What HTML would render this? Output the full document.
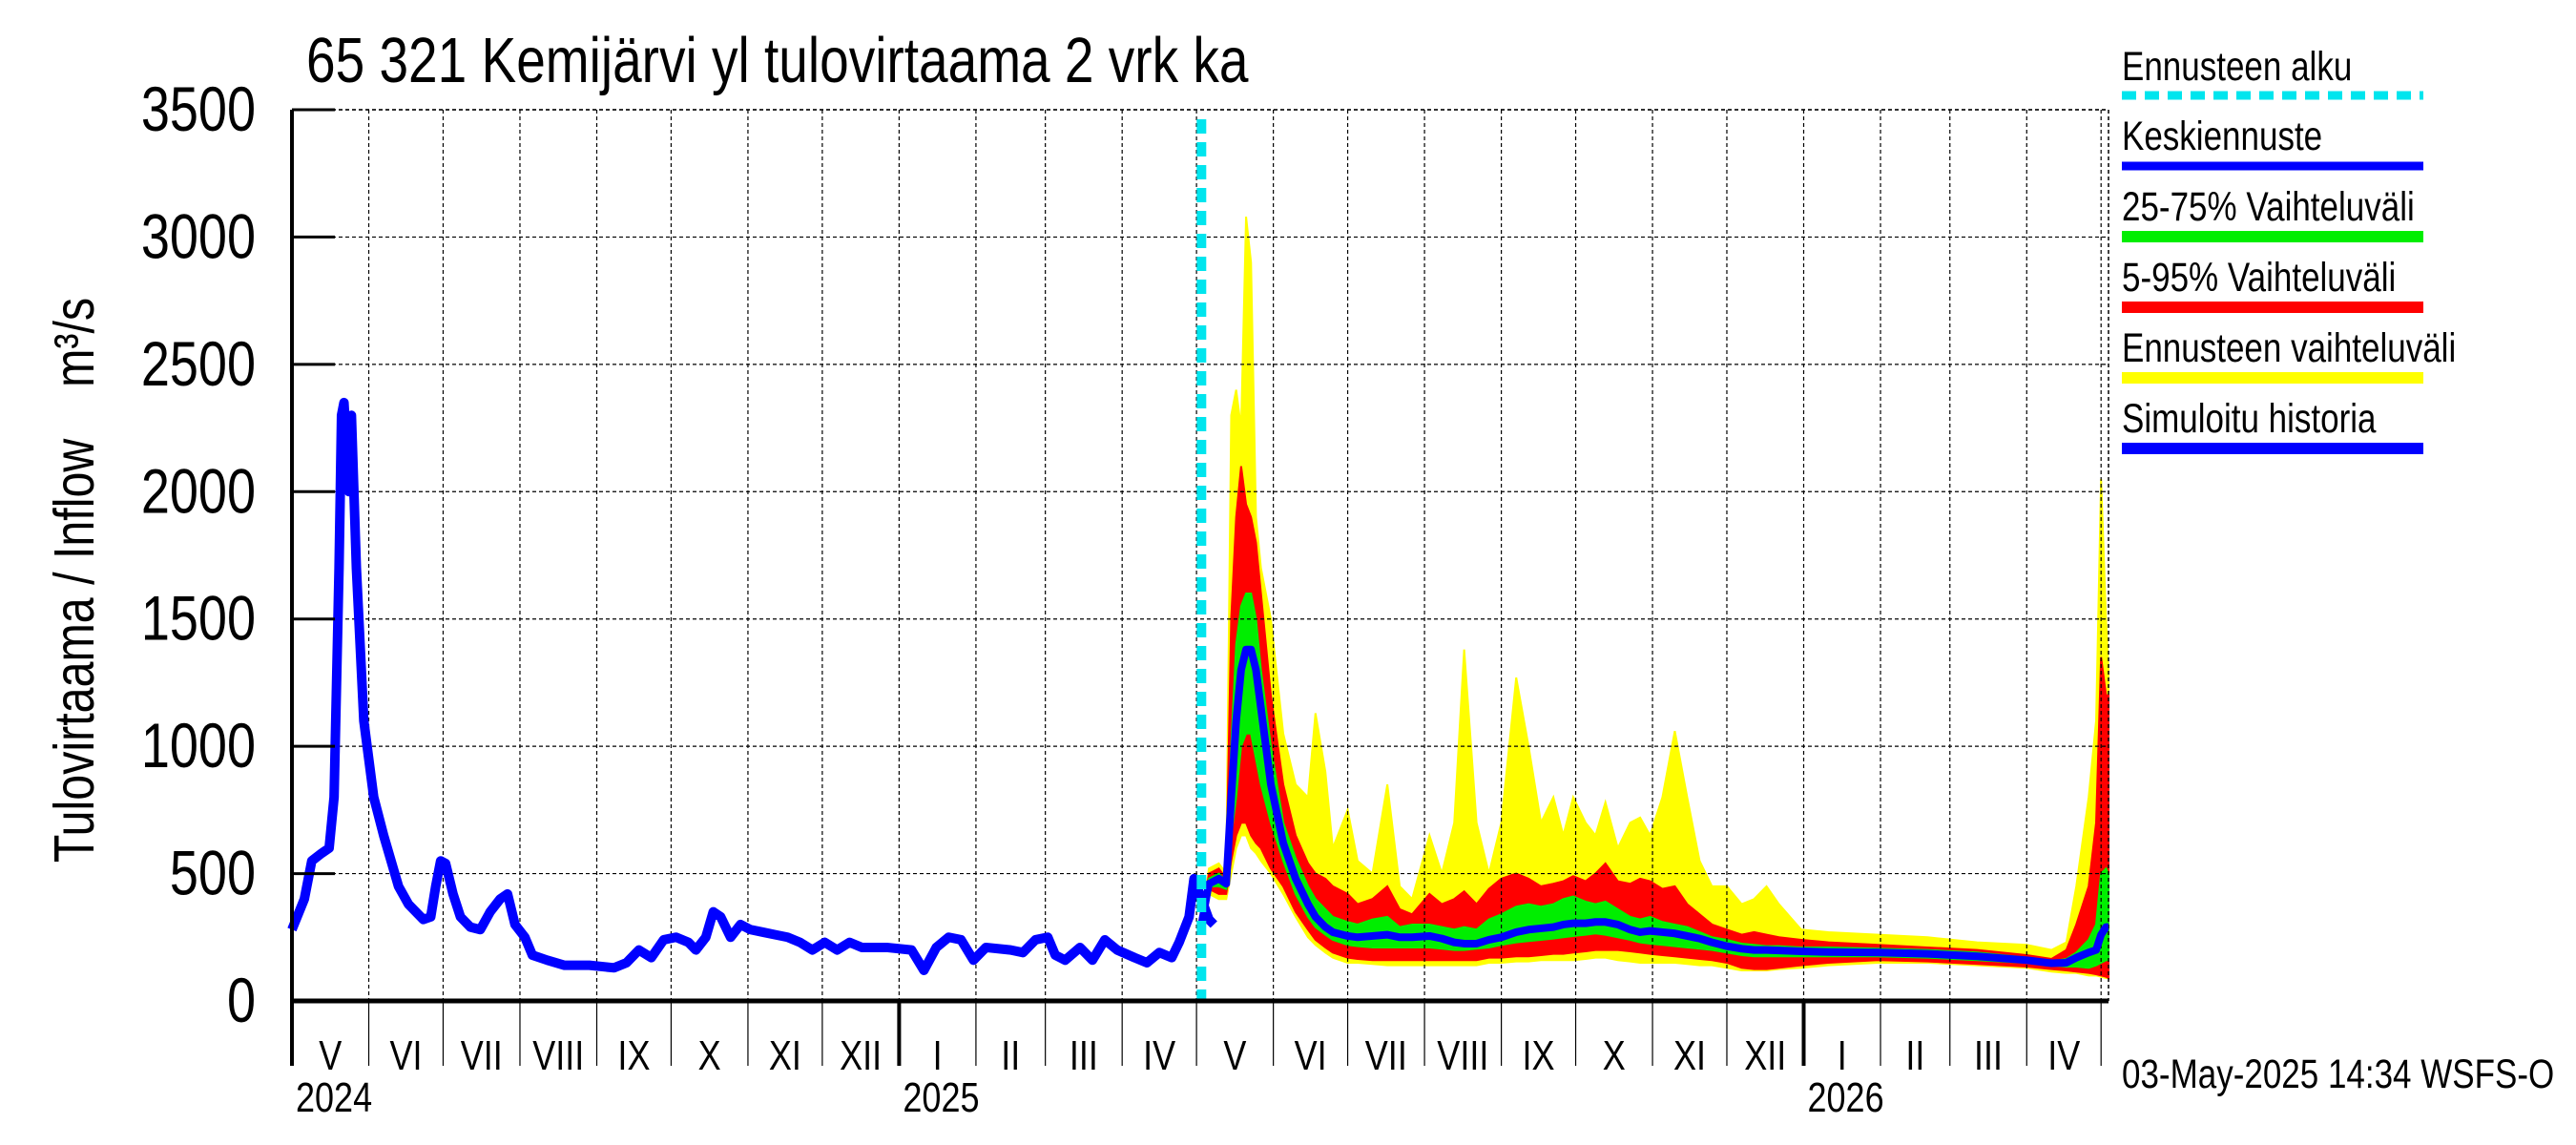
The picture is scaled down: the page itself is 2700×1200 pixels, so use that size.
<!DOCTYPE html>
<html><head><meta charset="utf-8"><style>
html,body{margin:0;padding:0;background:#fff;}
svg{display:block;font-family:"Liberation Sans",sans-serif;}
</style></head><body>
<svg id="chart" width="2700" height="1200" viewBox="0 0 2700 1200" xmlns="http://www.w3.org/2000/svg">
<rect width="2700" height="1200" fill="#fff"/>
<g id="bands"></g>
<g id="grid"></g>
<g id="lines"></g>
<g id="axes"></g>
<text class="st" x="321" y="86" font-size="55">65 321 Kemijärvi yl tulovirtaama 2 vrk ka</text>
<text transform="translate(98,608) rotate(-90) scale(0.82,1)" text-anchor="middle" font-size="59" xml:space="preserve">Tulovirtaama / Inflow    m³/s</text>
<g>
<text class="st" x="2224" y="84" font-size="35">Ennusteen alku</text>
<line x1="2224" y1="100" x2="2540" y2="100" stroke="#00e5ee" stroke-width="9" stroke-dasharray="15 9"/>
<text class="st" x="2224" y="157" font-size="35">Keskiennuste</text>
<line x1="2224" y1="174" x2="2540" y2="174" stroke="#0000ff" stroke-width="9"/>
<text class="st" x="2224" y="231" font-size="35">25-75% Vaihteluväli</text>
<line x1="2224" y1="248" x2="2540" y2="248" stroke="#00ee00" stroke-width="12"/>
<text class="st" x="2224" y="305" font-size="35">5-95% Vaihteluväli</text>
<line x1="2224" y1="322" x2="2540" y2="322" stroke="#ff0000" stroke-width="12"/>
<text class="st" x="2224" y="379" font-size="35">Ennusteen vaihteluväli</text>
<line x1="2224" y1="396" x2="2540" y2="396" stroke="#ffff00" stroke-width="12"/>
<text class="st" x="2224" y="453" font-size="35">Simuloitu historia</text>
<line x1="2224" y1="470" x2="2540" y2="470" stroke="#0000ff" stroke-width="12"/>
</g>
<text class="st" x="2224" y="1140" font-size="35">03-May-2025 14:34 WSFS-O</text>
</svg>
<script>
// ---- data ----
const yTicks = [0,500,1000,1500,2000,2500,3000,3500];
const monthLabels = ["V","VI","VII","VIII","IX","X","XI","XII","I","II","III","IV","V","VI","VII","VIII","IX","X","XI","XII","I","II","III","IV"];
const yearLabels = ["2024","2025","2026"];
const forecastStartDay = 367;
const histDays = [0,5,8,12,15,17,19,20,21,23,24,26,29,33,37,40,43,47,50,53,56,58,60,62,65,68,72,76,80,84,87,90,94,97,103,110,120,130,135,140,145,150,155,160,163,167,170,173,177,181,185,190,195,200,205,210,215,220,225,230,240,250,255,260,265,270,275,280,290,295,300,305,308,312,318,323,328,333,340,345,350,355,358,362,364,367,370,372];
const histVals = [280,400,550,580,600,800,1700,2300,2350,2000,2300,1700,1100,800,650,550,450,380,350,320,330,450,550,540,420,330,290,280,350,400,420,300,250,180,160,140,140,130,150,200,170,240,250,230,200,250,350,330,250,300,280,270,260,250,230,200,230,200,230,210,210,200,120,210,250,240,160,210,200,190,240,250,180,160,210,160,240,200,170,150,190,170,230,330,480,400,320,300];
const fDays = [367,370,374,377,379,381,383,385,387,389,391,395,400,405,410,413,417,420,426,430,436,442,447,452,459,464,469,473,478,483,488,494,499,504,509,513,517,522,526,530,535,540,544,548,553,558,563,568,573,579,585,590,595,600,609,620,640,660,680,700,710,716,720,725,728,730,732,733];
const yellowLo = [300,420,400,400,500,600,650,650,600,580,550,500,420,330,250,220,190,170,150,150,145,140,140,140,140,140,140,140,140,150,150,155,155,160,160,160,160,165,170,170,160,155,150,150,150,150,145,140,140,130,120,120,120,125,130,140,150,150,140,130,115,110,110,100,100,95,90,90];
const yellowHi = [300,520,540,500,2300,2400,2250,3080,2900,1900,1700,1500,1050,850,800,1130,900,600,750,550,500,850,450,400,650,500,700,1380,700,500,700,1270,1000,700,800,650,800,700,650,780,600,700,720,650,800,1060,800,550,450,450,380,400,450,380,280,270,260,250,230,220,200,230,450,800,1100,2050,1500,1300];
const redLo = [300,440,420,420,550,650,700,700,650,620,600,520,450,350,280,240,210,190,170,165,160,160,160,160,160,160,160,160,160,170,170,175,175,180,185,185,190,195,200,200,200,195,190,185,180,175,170,165,160,150,130,125,125,130,140,150,160,155,145,135,125,120,115,110,105,100,95,90];
const redHi = [300,500,520,480,1500,1900,2100,1950,1900,1800,1600,1200,850,650,540,500,480,450,420,380,400,450,360,340,420,380,400,430,380,440,480,500,480,450,460,470,490,470,500,540,470,460,480,470,440,450,380,340,300,280,260,270,260,250,240,230,220,210,200,180,165,200,300,450,700,1350,1200,1200];
const greenLo = [300,450,450,440,650,800,1000,1050,1050,950,850,700,550,420,330,290,260,240,220,215,210,210,210,210,210,205,200,200,205,210,220,230,235,240,245,250,255,260,265,260,250,240,230,225,220,215,210,205,200,190,180,175,175,175,175,175,175,170,160,150,140,135,135,130,140,150,160,160];
const greenHi = [300,480,500,470,1000,1400,1550,1600,1600,1500,1300,1000,700,560,450,400,360,330,310,300,320,330,290,300,300,290,280,290,280,320,340,370,380,370,380,400,410,390,380,390,360,330,320,330,310,300,290,270,250,240,225,220,215,215,210,210,205,200,190,170,155,165,190,240,300,500,520,500];
const meanVals = [300,460,480,460,800,1100,1300,1380,1380,1300,1150,850,620,480,380,330,290,270,255,250,255,260,250,250,255,245,230,225,225,240,250,270,280,285,290,300,305,305,310,310,300,280,270,275,270,265,255,245,230,215,205,200,200,198,195,192,190,185,175,160,148,150,170,190,200,260,290,290];

// ---- scales ----
const X0 = 306, X1 = 2210, DAY_END = 733;
const Y0 = 1049, Y1 = 115, VMAX = 3500;
function xs(d){ return X0 + d*(X1-X0)/DAY_END; }
function ys(v){ return Y0 - v*(Y0-Y1)/VMAX; }
const NS = "http://www.w3.org/2000/svg";
function mk(tag, attrs, parent){
  const e = document.createElementNS(NS, tag);
  for (const k in attrs) e.setAttribute(k, attrs[k]);
  parent.appendChild(e); return e;
}
const grid = document.getElementById('grid');
const axes = document.getElementById('axes');
const bands = document.getElementById('bands');
const lines = document.getElementById('lines');

const base = Date.UTC(2024,4,1);
const monthStarts = [];
for (let i=0;i<=24;i++){ monthStarts.push((Date.UTC(2024,4+i,1)-base)/86400000); }

yTicks.forEach(v=>{
  const y = ys(v);
  if (v>0){
    const g = mk('line',{x1:X0,x2:X1,y1:y,y2:y,stroke:'#000','stroke-width':1.2,'stroke-dasharray':'4 3'},grid);
    
    
  }
  const t = mk('line',{x1:X0,x2:X0+45,y1:y,y2:y,stroke:'#000','stroke-width':3},axes);
  
  
  const lb = mk('text',{x:268,y:y+22,'text-anchor':'end','font-size':54,'class':'st'},axes);
  lb.textContent = v;
  
  
});

monthStarts.forEach((d,i)=>{
  const x = xs(d);
  const isYear = (i%12===8);
  if (i>0){
    const g = mk('line',{x1:x,x2:x,y1:Y1,y2:Y0,stroke:'#000','stroke-width':1.2,'stroke-dasharray':'4 3'},grid);
    
    
  }
  const t = mk('line',{x1:x,x2:x,y1:Y0,y2:1117,stroke:'#000','stroke-width':isYear?4:1.2},axes);
  
  
  if (i<24){
    const xm = (xs(d)+xs(monthStarts[i+1]))/2;
    const lb = mk('text',{x:xm,y:1121,'text-anchor':'middle','font-size':36,'class':'st'},axes);
    lb.textContent = monthLabels[i];
    
    
  }
});
[0,8,20].forEach((mi,k)=>{
  const lb = mk('text',{x:xs(monthStarts[mi])+4,y:1165,'font-size':36,'class':'st'},axes);
  lb.textContent = yearLabels[k];
  
  
});

const tb = mk('line',{x1:X0,x2:X1,y1:Y1,y2:Y1,stroke:'#000','stroke-width':1.5,'stroke-dasharray':'4 3'},grid);


const rb = mk('line',{x1:X1,x2:X1,y1:Y1,y2:Y0,stroke:'#000','stroke-width':1.5,'stroke-dasharray':'4 3'},grid);


const la = mk('line',{x1:X0,x2:X0,y1:Y1,y2:1117,stroke:'#000','stroke-width':4},axes);


const ba = mk('line',{x1:X0,x2:X1,y1:Y0,y2:Y0,stroke:'#000','stroke-width':5},axes);



function band(lo, hi, color, name){
  let p = fDays.map((d,i)=>xs(d)+','+ys(hi[i])).join(' ');
  p += ' ' + fDays.slice().reverse().map((d,j)=>{const i=fDays.length-1-j; return xs(d)+','+ys(lo[i]);}).join(' ');
  const e = mk('polygon',{points:p,fill:color,stroke:color,'stroke-width':2},bands);
  
  
}
band(yellowLo,yellowHi,'#ffff00','forecast-range-band');
band(redLo,redHi,'#ff0000','band-5-95');
band(greenLo,greenHi,'#00ee00','band-25-75');

const hp = histDays.map((d,i)=>xs(d)+','+ys(histVals[i])).join(' ');
const hl = mk('polyline',{points:hp,fill:'none',stroke:'#0000ff','stroke-width':10,'stroke-linejoin':'round'},lines);


const mp = fDays.map((d,i)=>xs(d)+','+ys(meanVals[i])).join(' ');
const ml = mk('polyline',{points:mp,fill:'none',stroke:'#0000ff','stroke-width':8,'stroke-linejoin':'round'},lines);


const fx = xs(forecastStartDay);
const fl = mk('line',{x1:fx,x2:fx,y1:Y1+10,y2:Y0,stroke:'#00e5ee','stroke-width':10,'stroke-dasharray':'15 9'},lines);



// stretch text vertically (narrow tall glyphs as in reference)
document.querySelectorAll('text.st').forEach(t=>{
  const x = parseFloat(t.getAttribute('x')), y = parseFloat(t.getAttribute('y'));
  const fs = parseFloat(t.getAttribute('font-size'));
  t.setAttribute('font-size', fs*1.22);
  t.setAttribute('transform', `translate(${x},${y}) scale(0.82,1) translate(${-x},${-y})`);
});
</script>
</body></html>
